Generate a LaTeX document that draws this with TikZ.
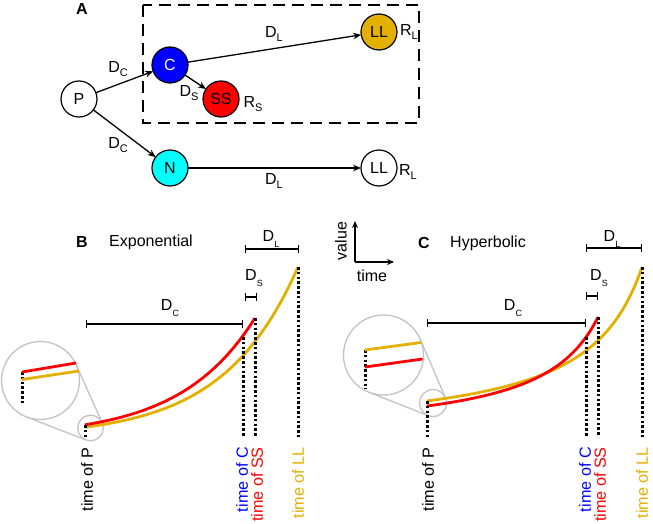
\documentclass[tikz,border=0pt]{standalone}
\usepackage{fontspec}
\setmainfont{Liberation Sans}
\usetikzlibrary{arrows.meta}
\definecolor{cblue}{RGB}{0,0,255}
\definecolor{cred}{RGB}{255,0,0}
\definecolor{cgold}{RGB}{228,176,0}
\definecolor{ccyan}{RGB}{0,255,255}
\definecolor{cgray}{RGB}{195,195,195}
\newcommand\lsub[1]{\raisebox{-0.3em}{\fontsize{11}{11}\selectfont #1}}
\newcommand\ssub[1]{\raisebox{-0.35em}{\fontsize{9}{9}\selectfont #1}}
\begin{document}
\begin{tikzpicture}[x=1pt,y=-1pt,
  state/.style={circle,draw=black,line width=1.2pt,minimum size=36pt,inner sep=0pt,outer sep=0pt,font=\fontsize{16}{16}\selectfont},
  arr/.style={-{Stealth[length=8pt,width=6.5pt]},line width=1.3pt},
  lbl/.style={font=\fontsize{16}{16}\selectfont,inner sep=0pt},
  plabel/.style={font=\bfseries\fontsize{16}{16}\selectfont,inner sep=0pt},
  bar/.style={{Bar[width=8pt]}-{Bar[width=8pt]},line width=1.3pt},
  dots/.style={line width=3pt,dash pattern=on 2.6pt off 2.2pt},
  curve/.style={line width=2.8pt},
  tlab/.style={rotate=90,anchor=east,font=\fontsize{16.2}{16.2}\selectfont,inner sep=0pt},
  lens/.style={circle,draw=cgray,line width=1.3pt,inner sep=0pt,outer sep=0pt},
  lensline/.style={draw=cgray,line width=1.3pt}]
\useasboundingbox (0,0) rectangle (653,524);
% ---------- Panel A ----------
\node[plabel] (lA) at (82,9) {A};
\draw[line width=1.3pt,dash pattern=on 12pt off 7pt] (143,5) rectangle (419,123);
\node[state,fill=white] (P) at (79,99) {P};
\node[state,fill=cblue,text=white] (C) at (170,65) {C};
\node[state,fill=cred] (SS) at (221,99) {SS};
\node[state,fill=cgold] (LLa) at (379,32) {LL};
\node[state,fill=ccyan] (N) at (170,168) {N};
\node[state,fill=white] (LLb) at (379,168) {LL};
\draw[arr] (P) -- (C);
\draw[arr] (P) -- (N);
\draw[arr] (C) -- (SS);
\draw[arr] (C) -- (LLa);
\draw[arr] (N) -- (LLb);
\node[lbl] (dc1) at (118,69) {D\lsub{C}};
\node[lbl] (dc2) at (118,145) {D\lsub{C}};
\node[lbl] (ds1) at (189,93) {D\lsub{S}};
\node[lbl] (rs1) at (253,104) {R\lsub{S}};
\node[lbl] (dl1) at (274,34) {D\lsub{L}};
\node[lbl] (dl2) at (274,181) {D\lsub{L}};
\node[lbl] (rl1) at (409,32) {R\lsub{L}};
\node[lbl] (rl2) at (408,172) {R\lsub{L}};
% ---------- Panel B ----------
\node[plabel] (lB) at (82,242) {B};
\node[lbl] (tB) at (151,242) {Exponential};
\node[lbl] (bDL) at (271,239) {D\ssub{L}};
\draw[bar] (245,249) -- (299,249);
\node[lbl] (bDS) at (254,278) {D\ssub{S}};
\draw[bar] (245,297) -- (257,297);
\node[lbl] (bDC) at (170,308) {D\ssub{C}};
\draw[bar] (86,324) -- (243,324);
\node[lens] (bsm) at (90.5,428) [minimum size=25.6pt] {};
\node[lens,fill=white] (bbig) at (40.5,380.5) [minimum size=78pt] {};
\draw[lensline] (bbig.24.5) -- (bsm.24.5);
\draw[lensline] (bbig.249) -- (bsm.249);
\draw[curve,cgold] plot[domain=85:298,samples=90] (\x,{437-170*exp(-0.0134*(298-\x))});
\draw[curve,cred] plot[domain=85:255,samples=90] (\x,{437-119*exp(-0.0134*(255-\x))});
\draw[dots] (85,425) -- (85,437);
\draw[dots] (243,337) -- (243,437);
\draw[dots] (255,318) -- (255,437);
\draw[dots] (298,267) -- (298,437);
\draw[dots] (22,372) -- (22,405);
\draw[curve,cred] (22,372) -- (76,363);
\draw[curve,cgold] (22,379.5) -- (79,371);
\node[tlab] (bP) at (87,447) {time of P};
\node[tlab,text=cblue] (bC) at (242,447) {time of C};
\node[tlab,text=cred] (bSS) at (257,447) {time of SS};
\node[tlab,text=cgold] (bLL) at (298,447) {time of LL};
% ---------- axes key ----------
\coordinate (o) at (355,262);
\coordinate (ytip) at (355,221);
\coordinate (xtip) at (394,262);
\draw[line width=1.3pt,-{Stealth[length=7pt,width=6pt]}] (o) -- (ytip);
\draw[line width=1.3pt,-{Stealth[length=7pt,width=6pt]}] (o) -- (xtip);
\node[lbl,rotate=90] (val) at (341,241) {value};
\node[lbl] (tim) at (372,276) {time};
% ---------- Panel C ----------
\node[plabel] (lC) at (424,243) {C};
\node[lbl] (tC) at (488,243) {Hyperbolic};
\node[lbl] (cDL) at (612,239) {D\ssub{L}};
\draw[bar] (586,248) -- (642,248);
\node[lbl] (cDS) at (599,278) {D\ssub{S}};
\draw[bar] (586,296) -- (598,296);
\node[lbl] (cDC) at (513,308) {D\ssub{C}};
\draw[bar] (427,323) -- (586,323);
\node[lens] (csm) at (433,403) [minimum size=27pt] {};
\node[lens,fill=white] (cbig) at (383.5,355) [minimum size=80pt] {};
\draw[lensline] (cbig.23.7) -- (csm.23.7);
\draw[lensline] (cbig.248.7) -- (csm.248.7);
\draw[curve,cgold] plot[domain=427:642,samples=90] (\x,{437-170/(1+0.0173*(642-\x))});
\draw[curve,cred] plot[domain=427:598,samples=90] (\x,{437-120/(1+0.0168*(598-\x))});
\draw[dots] (427,401) -- (427,437);
\draw[dots] (586,337) -- (586,437);
\draw[dots] (598,317) -- (598,437);
\draw[dots] (642,267) -- (642,437);
\draw[dots] (365,350) -- (365,389);
\draw[curve,cgold] (365,350) -- (421,342.5);
\draw[curve,cred] (365,367) -- (422.5,359);
\node[tlab] (cP) at (428,447) {time of P};
\node[tlab,text=cblue] (cC) at (585,447) {time of C};
\node[tlab,text=cred] (cSS) at (600,447) {time of SS};
\node[tlab,text=cgold] (cLL) at (642,447) {time of LL};
\end{tikzpicture}
\end{document}
